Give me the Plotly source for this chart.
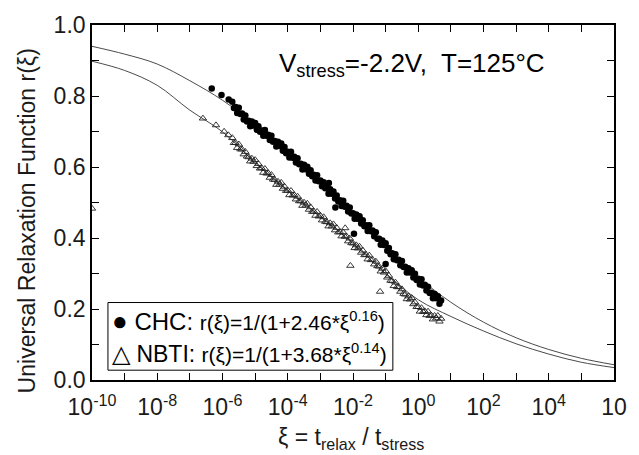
import plotly.graph_objects as go

# ---------------- data ----------------
# log10(xi) sampling grids for the two measured bands
grid_a_log_xi = [-5.7,-5.6,-5.5,-5.4,-5.3,-5.2,-5.1,-5.0,-4.9,-4.8,-4.7,-4.6,-4.5,-4.4,-4.3,-4.2,-4.1,-4.0,-3.9,-3.8,
                 -3.7,-3.6,-3.5,-3.4,-3.3,-3.2,-3.1,-3.0,-2.9,-2.8,-2.7,-2.6,-2.5,-2.4,-2.3,-2.2,-2.1,-2.0,-1.9,-1.8,
                 -1.7,-1.6,-1.5,-1.4,-1.3,-1.2,-1.1,-1.0,-0.9,-0.8,-0.7,-0.6,-0.5,-0.4,-0.3,-0.2,-0.1,0.0,0.1,0.2,
                 0.3,0.4,0.5,0.6,0.7]
grid_b_log_xi = [-5.65,-5.55,-5.45,-5.35,-5.25,-5.15,-5.05,-4.95,-4.85,-4.75,-4.65,-4.55,-4.45,-4.35,-4.25,-4.15,-4.05,-3.95,-3.85,-3.75,
                 -3.65,-3.55,-3.45,-3.35,-3.25,-3.15,-3.05,-2.95,-2.85,-2.75,-2.65,-2.55,-2.45,-2.35,-2.25,-2.15,-2.05,-1.95,-1.85,-1.75,
                 -1.65,-1.55,-1.45,-1.35,-1.25,-1.15,-1.05,-0.95,-0.85,-0.75,-0.65,-0.55,-0.45,-0.35,-0.25,-0.15,-0.05,0.05,0.15,0.25,
                 0.35,0.45,0.55,0.65]

chc_r_a = [0.784,0.769,0.767,0.751,0.745,0.730,0.728,0.724,0.715,0.703,
           0.704,0.691,0.688,0.673,0.671,0.666,0.656,0.643,0.643,0.629,
           0.625,0.609,0.606,0.601,0.591,0.578,0.577,0.562,0.557,0.541,
           0.537,0.531,0.520,0.506,0.505,0.491,0.486,0.470,0.466,0.461,
           0.450,0.436,0.436,0.421,0.416,0.398,0.393,0.385,0.372,0.357,
           0.354,0.339,0.335,0.319,0.315,0.309,0.299,0.285,0.284,0.268,
           0.263,0.246,0.242,0.236,0.224]
chc_r_b = [0.766,0.752,0.749,0.734,0.728,0.715,0.717,0.705,0.699,0.688,
           0.688,0.676,0.671,0.658,0.659,0.646,0.639,0.627,0.626,0.613,
           0.608,0.593,0.594,0.581,0.574,0.562,0.560,0.546,0.540,0.525,
           0.525,0.511,0.503,0.490,0.488,0.475,0.469,0.454,0.454,0.441,
           0.433,0.420,0.419,0.405,0.398,0.381,0.380,0.364,0.354,0.340,
           0.337,0.323,0.318,0.303,0.303,0.289,0.282,0.269,0.266,0.252,
           0.245,0.230,0.230,0.215]
chc_extra_log_xi = [-6.33,-6.03,-5.81,-2.74,-2.54,-1.97,-1.0]
chc_extra_r = [0.821,0.803,0.790,0.555,0.486,0.412,0.327]

nbti_r_a = [0.682,0.668,0.664,0.650,0.643,0.628,0.624,0.620,0.609,0.597,
            0.595,0.583,0.578,0.564,0.559,0.556,0.545,0.534,0.533,0.521,
            0.517,0.504,0.500,0.497,0.487,0.475,0.474,0.463,0.459,0.445,
            0.442,0.439,0.429,0.417,0.416,0.405,0.399,0.385,0.380,0.376,
            0.365,0.353,0.351,0.339,0.334,0.320,0.314,0.307,0.294,0.279,
            0.275,0.262,0.256,0.241,0.236,0.231,0.219,0.206,0.203,0.194,
            0.193,0.182,0.181,0.181,0.173]
nbti_r_b = [0.668,0.654,0.650,0.636,0.630,0.616,0.615,0.603,0.596,0.584,
            0.582,0.570,0.565,0.550,0.551,0.539,0.533,0.521,0.520,0.509,
            0.504,0.491,0.492,0.480,0.474,0.463,0.461,0.450,0.446,0.433,
            0.433,0.422,0.416,0.405,0.404,0.391,0.386,0.372,0.371,0.359,
            0.352,0.340,0.338,0.326,0.321,0.306,0.303,0.289,0.280,0.265,
            0.262,0.249,0.243,0.228,0.227,0.214,0.206,0.193,0.192,0.183,
            0.181,0.171,0.174,0.165]
nbti_extra_log_xi = [-10.0,-6.6,-6.2,-5.95,-5.82,-2.24,-2.08,-1.17]
nbti_extra_r = [0.483,0.737,0.718,0.700,0.690,0.428,0.322,0.249]

# fitted curves, read per decade
fit_log_xi = [-10,-9,-8,-7,-6,-5,-4,-3,-2,-1,0,1,2,3,4,5,6]
chc_fit_r = [0.940,0.918,0.890,0.843,0.788,0.719,0.640,0.553,0.462,0.372,0.289,0.219,0.163,0.119,0.086,0.061,0.043]
nbti_fit_r = [0.898,0.872,0.830,0.760,0.699,0.612,0.533,0.460,0.385,0.300,0.226,0.179,0.138,0.102,0.073,0.050,0.035]

x_tick_exponents = [-10,-9,-8,-7,-6,-5,-4,-3,-2,-1,0,1,2,3,4,5,6]
x_tick_labels = ["10<sup>-10</sup>","","10<sup>-8</sup>","","10<sup>-6</sup>","","10<sup>-4</sup>","",
                 "10<sup>-2</sup>","","10<sup>0</sup>","","10<sup>2</sup>","","10<sup>4</sup>","","10"]
y_tick_vals = [0.0,0.1,0.2,0.3,0.4,0.5,0.6,0.7,0.8,0.9,1.0]
y_tick_labels = ["0.0","","0.2","","0.4","","0.6","","0.8","","1.0"]

# ---------------- figure ----------------
def pw(vals):
    return [10 ** v for v in vals]

FONT = "Liberation Sans, Arial, sans-serif"
W, H = 639, 455
L, R, T, B = 92, 23, 18, 75
PW, PH = W - L - R, H - T - B

def px_x(p):
    return (p - L) / PW

def px_y(p):
    return (H - B - p) / PH

fig = go.Figure()

fig.add_trace(go.Scatter(x=pw(fit_log_xi), y=chc_fit_r, mode="lines",
                         line=dict(color="#4a4a4a", width=1, shape="spline", smoothing=1.0),
                         showlegend=False, hoverinfo="skip"))
fig.add_trace(go.Scatter(x=pw(fit_log_xi), y=nbti_fit_r, mode="lines",
                         line=dict(color="#4a4a4a", width=1, shape="spline", smoothing=1.0),
                         showlegend=False, hoverinfo="skip"))

nbti_x = pw(grid_a_log_xi) + pw(grid_b_log_xi) + pw(nbti_extra_log_xi)
nbti_y = nbti_r_a + nbti_r_b + nbti_extra_r
fig.add_trace(go.Scatter(x=nbti_x, y=nbti_y, mode="markers",
                         marker=dict(symbol="triangle-up-open", size=6.5, color="#222222",
                                     line=dict(width=0.9, color="#222222")),
                         showlegend=False))

chc_x = pw(grid_a_log_xi) + pw(grid_b_log_xi) + pw(chc_extra_log_xi)
chc_y = chc_r_a + chc_r_b + chc_extra_r
fig.add_trace(go.Scatter(x=chc_x, y=chc_y, mode="markers",
                         marker=dict(symbol="circle", size=6.5, color="black"),
                         showlegend=False))

axis_common = dict(showline=True, linecolor="black", linewidth=1.6, mirror="ticks",
                   ticks="inside", ticklen=7, tickwidth=1.2, tickcolor="black",
                   showgrid=False, zeroline=False,
                   tickfont=dict(family=FONT, size=23, color="#1a1a1a"))

fig.update_xaxes(type="log", range=[-10, 6], tickmode="array",
                 tickvals=pw(x_tick_exponents), ticktext=x_tick_labels,
                 ticklabelstandoff=6, **axis_common)
fig.update_yaxes(range=[0, 1.0], tickmode="array", tickvals=y_tick_vals,
                 ticktext=y_tick_labels, **axis_common)

# legend box drawn manually
fig.add_shape(type="rect", xref="paper", yref="paper",
              x0=px_x(108), x1=px_x(394), y0=px_y(370), y1=px_y(301),
              line=dict(color="black", width=1), fillcolor="white", layer="above")

annotations = [
    dict(text="<span style='font-size:26px'>●</span> CHC: <span style='font-size:21px'>r(ξ)=1/(1+2.46*ξ<sup>0.16</sup>)</span>",
         x=px_x(110), y=px_y(320), xanchor="left", yanchor="middle",
         font=dict(family=FONT, size=24, color="black")),
    dict(text="<span style='font-size:24px'>△</span> NBTI: <span style='font-size:21px'>r(ξ)=1/(1+3.68*ξ<sup>0.14</sup>)</span>",
         x=px_x(110), y=px_y(353), xanchor="left", yanchor="middle",
         font=dict(family=FONT, size=23, color="black")),
    dict(text="V<sub>stress</sub>=-2.2V,  T=125°C",
         x=px_x(278), y=px_y(58), xanchor="left", yanchor="middle",
         font=dict(family=FONT, size=26, color="black")),
    dict(text="Universal Relaxation Function r(ξ)", textangle=-90,
         x=px_x(27), y=px_y(218), xanchor="center", yanchor="middle",
         font=dict(family=FONT, size=23, color="#1a1a1a")),
    dict(text="ξ = t<sub>relax</sub> / t<sub>stress</sub>",
         x=px_x(352), y=px_y(440), xanchor="center", yanchor="middle",
         font=dict(family=FONT, size=23, color="#1a1a1a")),
]
for a in annotations:
    a.update(xref="paper", yref="paper", showarrow=False)
fig.update_layout(annotations=annotations)

fig.update_layout(width=W, height=H, margin=dict(l=L, r=R, t=T, b=B),
                  paper_bgcolor="white", plot_bgcolor="white",
                  font=dict(family=FONT), showlegend=False)

fig.write_html("out.html")
